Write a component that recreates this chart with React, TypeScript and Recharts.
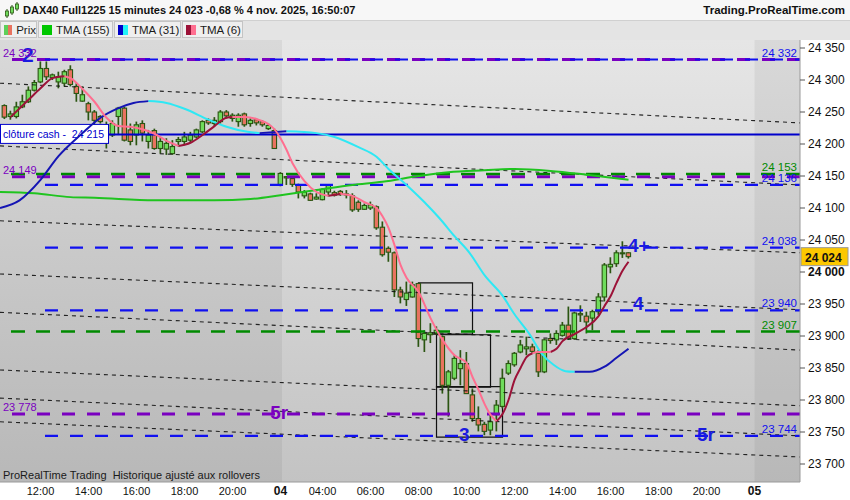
import React from 'react';
import {
  ComposedChart, Bar, Line, XAxis, YAxis, CartesianGrid,
  ReferenceLine, ReferenceArea, ReferenceDot,
} from 'recharts';

// 15 min bars, index 0 = 3 nov 10:30 ... index 104 = 4 nov 16:45
const opens = [
  24260, 24243, 24243, 24258, 24266, 24284, 24297, 24318, 24304, 24297, 24295, 24316, 24290, 24267, 24263, 24250, 24243, 24230, 24214, 24243,
  24256, 24222, 24214, 24232, 24204, 24221, 24193, 24192, 24185, 24204, 24204, 24206, 24211, 24219, 24237, 24232, 24235, 24250, 24240, 24235,
  24247, 24232, 24238, 24235, 24224, 24221, 24136, 24147, 24146, 24136, 24119, 24122, 24114, 24113, 24125, 24124, 24126, 24121, 24119, 24109,
  24098, 24100, 24102, 24070, 24037, 24030, 23972, 23957, 23961, 23982, 23894, 23902, 23904, 23899, 23823, 23834, 23849, 23857, 23808, 23771,
  23762, 23753, 23777, 23790, 23842, 23855, 23875, 23880, 23883, 23873, 23844, 23896, 23894, 23901, 23917, 23896, 23935, 23931, 23928, 23938,
  23961, 24008, 24013, 24029, 24030,
];
const highs = [
  24262, 24252, 24266, 24277, 24290, 24300, 24329, 24329, 24310, 24313, 24316, 24323, 24295, 24290, 24266, 24253, 24245, 24235, 24237, 24258,
  24258, 24232, 24235, 24237, 24222, 24224, 24211, 24209, 24206, 24211, 24219, 24219, 24224, 24237, 24240, 24242, 24253, 24253, 24248, 24248,
  24249, 24240, 24240, 24237, 24232, 24224, 24156, 24150, 24149, 24138, 24128, 24124, 24123, 24131, 24137, 24127, 24128, 24128, 24123, 24112,
  24107, 24110, 24104, 24079, 24040, 24032, 23977, 23985, 23985, 23983, 23909, 23920, 23915, 23901, 23847, 23870, 23878, 23875, 23818, 23790,
  23766, 23777, 23800, 23849, 23862, 23875, 23894, 23899, 23888, 23878, 23896, 23904, 23909, 23922, 23946, 23938, 23948, 23938, 23941, 23967,
  24014, 24023, 24034, 24048, 24031,
];
const lows = [
  24239, 24238, 24240, 24256, 24264, 24282, 24295, 24300, 24300, 24287, 24290, 24290, 24266, 24266, 24237, 24230, 24232, 24193, 24211, 24214,
  24204, 24198, 24198, 24204, 24193, 24191, 24185, 24183, 24183, 24196, 24198, 24203, 24209, 24217, 24230, 24228, 24232, 24240, 24235, 24227,
  24227, 24227, 24229, 24227, 24222, 24193, 24134, 24136, 24133, 24115, 24115, 24111, 24113, 24112, 24118, 24118, 24119, 24115, 24094, 24094,
  24097, 24097, 24066, 24024, 24016, 23961, 23951, 23947, 23960, 23883, 23875, 23889, 23902, 23810, 23774, 23831, 23823, 23810, 23766, 23751,
  23745, 23745, 23751, 23787, 23839, 23852, 23873, 23870, 23873, 23836, 23842, 23888, 23886, 23899, 23894, 23894, 23922, 23904, 23909, 23933,
  23954, 23998, 24008, 24022, 24021,
];
const closes = [
  24242, 24247, 24258, 24266, 24284, 24296, 24318, 24305, 24308, 24305, 24313, 24293, 24279, 24277, 24250, 24237, 24235, 24209, 24232, 24256,
  24206, 24204, 24230, 24217, 24214, 24193, 24204, 24201, 24196, 24207, 24211, 24214, 24222, 24235, 24233, 24237, 24250, 24244, 24245, 24245,
  24230, 24237, 24233, 24230, 24229, 24193, 24154, 24149, 24137, 24125, 24125, 24112, 24117, 24129, 24136, 24120, 24121, 24122, 24097, 24098,
  24104, 24105, 24069, 24027, 24031, 23972, 23961, 23967, 23980, 23896, 23904, 23905, 23909, 23823, 23844, 23865, 23857, 23810, 23771, 23761,
  23751, 23766, 23792, 23834, 23857, 23873, 23886, 23883, 23876, 23844, 23894, 23893, 23904, 23917, 23896, 23936, 23933, 23922, 23938, 23961,
  24011, 24012, 24030, 24030, 24024,
];

// TMA (6), rising / falling parts
const tma6Idx = [1, 4, 6, 8, 10, 11, 13, 15, 17, 19, 21, 23, 25, 27, 29, 31, 33, 35, 37, 38, 40, 42, 44, 45, 46, 47, 48, 50, 52, 54, 56, 58, 60, 62, 63, 64, 65, 66, 67, 69, 71, 73, 75, 77, 78, 79, 80, 81, 82, 83, 84, 85, 86, 87, 88, 89, 90, 91, 92, 93, 95, 97, 99, 100, 101, 102, 103, 104];
const tma6Val = [24242, 24269, 24287, 24303, 24306, 24303, 24286, 24266, 24241, 24228, 24227, 24223, 24216, 24205, 24197, 24202, 24214, 24228, 24241, 24242, 24242, 24239, 24231, 24223, 24209, 24191, 24170, 24142, 24125, 24119, 24122, 24119, 24109, 24100, 24087, 24069, 24042, 24011, 23991, 23969, 23928, 23894, 23870, 23858, 23836, 23816, 23794, 23777, 23767, 23778, 23800, 23831, 23850, 23867, 23873, 23875, 23875, 23875, 23880, 23892, 23903, 23914, 23931, 23947, 23962, 23983, 24002, 24016];
const tma6Up = [[1, 10], [29, 38], [54, 56], [82, 88], [91, 104]];
const tma6Down = [[10, 29], [38, 54], [56, 82], [88, 91]];

// TMA (31)
const tma31Idx = [-0.75, 2.5, 6, 9, 13, 16, 19, 21.5, 24, 27, 30, 34, 37, 40.5, 42.5, 47, 52, 55, 59, 62, 64, 67, 70, 72.5, 75, 77.5, 80, 83, 85, 87.5, 89.5, 91.5, 93.5, 95, 97.5, 100, 102, 104];
const tma31Val = [24100, 24112, 24144, 24181, 24217, 24241, 24256, 24264, 24267, 24264, 24255, 24238, 24227, 24219, 24217, 24220, 24217, 24211, 24195, 24180, 24161, 24136, 24109, 24084, 24056, 24030, 23995, 23963, 23934, 23903, 23873, 23855, 23845, 23844, 23844, 23852, 23866, 23880];
const tma31Up = [[-0.75, 24], [42.5, 47], [95, 104]];
const tma31Down = [[24, 42.5], [47, 95]];

// TMA (155)
const tma155Idx = [-0.75, 5, 11, 15, 25, 35, 41, 46, 52, 58, 63, 69, 74, 80, 85, 91, 97, 104];
const tma155Val = [24125, 24123, 24117, 24116, 24112, 24112, 24114, 24120, 24128, 24136, 24141, 24150, 24156, 24159, 24161, 24158, 24152, 24144];

// horizontal levels
const cashClose = 24215;
const purpleLevels = [24332, 24149, 23778];
const purpleLabels = ['24 332', '24 149', '23 778'];
const greenLevels = [24153, 23907];
const blueLevels = [24332, 24136, 24038, 23940, 23744];

// sloping dotted channel lines (value at left edge / right edge)
const trendLeft = [24295, 24197, 24080, 23997, 23937, 23847, 23803, 23766];
const trendRight = [24233, 24136, 24030, 23941, 23878, 23791, 23744, 23711];

// boxes
const boxX1 = [69, 72, 72];
const boxX2 = [78, 81, 83];
const boxLow = [23903, 23820, 23742];
const boxHigh = [23983, 23902, 23821];

const xTickIdx = [6, 14, 22, 30, 38, 46, 53, 61, 69, 77, 85, 93, 101, 109, 117, 125];
const xTickLabels = ['12:00', '14:00', '16:00', '18:00', '20:00', '04', '04:00', '06:00', '08:00', '10:00', '12:00', '14:00', '16:00', '18:00', '20:00', '05'];
const yTicks = [23700, 23750, 23800, 23850, 23900, 23950, 24000, 24050, 24100, 24150, 24200, 24250, 24300, 24350];
const lastPrice = 24024;

const X_MIN = -0.75;
const X_MAX = 132.58;
const Y_MIN = 23671.9;
const Y_MAX = 24362.5;

const FONT = '"Liberation Sans", Arial, sans-serif';
const WICK = '#2b5512';
const BLUE = '#1010f0';
const PURPLE = '#7a00c0';
const GREEN = '#008a00';

const candles = opens.map((o, i) => ({ i, open: o, high: highs[i], low: lows[i], close: closes[i] }));

function seg(idx: number[], val: number[], a: number, b: number) {
  return idx.map((x, k) => ({ i: x, v: val[k] })).filter(p => p.i >= a && p.i <= b);
}

function fmt(v: number) {
  const s = String(Math.round(v));
  return s.slice(0, -3) + ' ' + s.slice(-3);
}

const Candle = (props: any) => {
  const { x, y, width, height, payload } = props;
  if (payload == null) return null;
  const { open, close, high, low } = payload;
  const cx = x + width / 2;
  const k = high === low ? 0 : height / (high - low);
  const yOf = (v: number) => y + (high - v) * k;
  const up = close >= open;
  const top = yOf(Math.max(open, close));
  const bot = yOf(Math.min(open, close));
  return (
    <g>
      <line x1={cx} x2={cx} y1={y} y2={y + height} stroke={WICK} strokeWidth={1.7} />
      <rect x={cx - 2.2} y={top} width={4.4} height={Math.max(bot - top, 1)}
        fill={up ? '#6fdc5c' : '#e8735f'} stroke={WICK} strokeWidth={1.1} />
    </g>
  );
};

const mark = (text: string, color: string, size = 19) => (p: any) => {
  const vb = p.viewBox || {};
  return (
    <text x={vb.x} y={vb.y} fill={color} fontSize={size} fontWeight="bold" fontFamily={FONT}>{text}</text>
  );
};

const cashLabel = (p: any) => {
  const vb = p.viewBox || {};
  return (
    <g>
      <rect x={vb.x + 0.5} y={vb.y - 10} width={108} height={19} fill="#fff" stroke="#0000cc" strokeWidth={1} />
      <text x={vb.x + 3} y={vb.y + 4} fill="#0000cc" fontSize={11} fontFamily={FONT}
        textLength={101} lengthAdjust="spacingAndGlyphs" style={{ whiteSpace: 'pre' }}>clôture cash -  24 215</text>
    </g>
  );
};

const priceBadge = (p: any) => {
  const vb = p.viewBox || {};
  return (
    <g>
      <rect x={vb.x + 1} y={vb.y - 9} width={47} height={18} fill="#fcc800" stroke="#9a9a9a" strokeWidth={1} />
      <text x={vb.x + 5} y={vb.y + 5} fill="#111" fontSize={12} fontWeight="bold" fontFamily={FONT}>{fmt(lastPrice)}</text>
    </g>
  );
};

const YTick = (p: any) => {
  const v = p.payload.value;
  return (
    <text x={p.x} y={p.y} dy={4} textAnchor="start" fill="#111" fontSize={12}
      fontWeight={v === 24000 ? 'bold' : 'normal'} fontFamily={FONT}>{fmt(v)}</text>
  );
};

const XTick = (p: any) => {
  const k = xTickIdx.indexOf(p.payload.value);
  const lbl = xTickLabels[k] ?? '';
  const day = lbl.length === 2;
  return (
    <text x={p.x} y={p.y} dy={5} textAnchor="middle" fill="#111" fontSize={day ? 12 : 11}
      fontWeight={day ? 'bold' : 'normal'} fontFamily={FONT}>{lbl}</text>
  );
};

const legendItem = (label: string, c1: string, c2: string, w: number) => (
  <div style={{ display: 'flex', alignItems: 'center', width: w, height: 17, boxSizing: 'border-box', border: '1px solid #c4c4c4', background: '#efefef', paddingLeft: 3, marginRight: 1 }}>
    <span style={{ width: 5, height: 10, background: c1, display: 'inline-block' }} />
    <span style={{ width: 5, height: 10, background: c2, display: 'inline-block', marginRight: 4 }} />
    <span style={{ fontSize: 11.5, color: '#1a1a1a' }}>{label}</span>
  </div>
);

export default function App() {
  const lineProps = { dataKey: 'v', type: 'monotone' as const, dot: false, activeDot: false, isAnimationActive: false, strokeWidth: 2 };
  return (
    <div style={{ position: 'absolute', left: 0, top: 0, width: 850, height: 500, background: '#fff', fontFamily: FONT, overflow: 'hidden' }}>
      <ComposedChart width={850} height={500} data={candles} margin={{ top: 40, right: 0, bottom: 0, left: 0 }}
        style={{ position: 'absolute', left: 0, top: 0 }}>
        <defs>
          <linearGradient id="bg" x1="0" y1="0" x2="0" y2="1">
            <stop offset="0%" stopColor="#e6e6e6" />
            <stop offset="100%" stopColor="#c3c3c3" />
          </linearGradient>
        </defs>
        <CartesianGrid horizontal={false} vertical={false} fill="url(#bg)" />
        <XAxis dataKey="i" type="number" domain={[X_MIN, X_MAX]} allowDataOverflow ticks={xTickIdx}
          interval={0} height={18} tick={<XTick />} tickLine={false} tickMargin={2} axisLine={{ stroke: '#9a9a9a' }} />
        <YAxis orientation="right" width={50} domain={[Y_MIN, Y_MAX]} allowDataOverflow ticks={yTicks}
          interval={0} tick={<YTick />} tickSize={5} tickMargin={3} tickLine={{ stroke: '#555' }} axisLine={{ stroke: '#9a9a9a' }} />

        <ReferenceArea x1={X_MIN} x2={46.25} y1={Y_MIN} y2={Y_MAX} fill="#000" fillOpacity={0.055} stroke="none" />
        <ReferenceArea x1={125} x2={X_MAX} y1={Y_MIN} y2={Y_MAX} fill="#000" fillOpacity={0.055} stroke="none" />

        {trendLeft.map((v, k) => (
          <ReferenceLine key={'t' + k} segment={[{ x: X_MIN, y: v }, { x: X_MAX, y: trendRight[k] }]}
            stroke="#111" strokeOpacity={0.9} strokeDasharray="4 4" strokeWidth={1.1} />
        ))}

        {boxX1.map((x1, k) => (
          <ReferenceArea key={'b' + k} x1={x1} x2={boxX2[k]} y1={boxLow[k]} y2={boxHigh[k]}
            fill="none" fillOpacity={0} stroke="#111" strokeWidth={1.2} />
        ))}

        <Bar dataKey={(d: any) => [d.low, d.high]} barSize={5} isAnimationActive={false}
          shape={(p: any) => <Candle {...p} />} />

        <ReferenceLine y={cashClose} stroke="#0000cc" strokeWidth={2} label={cashLabel} />

        {purpleLevels.map((v, k) => (
          <ReferenceLine key={'p' + k} y={v} stroke={PURPLE} strokeWidth={3} strokeDasharray="13 12"
            label={{ value: purpleLabels[k], position: 'insideBottomLeft', offset: 3, fill: PURPLE, fontSize: 11, fontFamily: FONT }} />
        ))}
        {greenLevels.map((v, k) => (
          <ReferenceLine key={'g' + k} y={v} stroke={GREEN} strokeWidth={2.5} strokeDasharray="14 11"
            label={{ value: fmt(v), position: 'insideBottomRight', offset: 3, fill: GREEN, fontSize: 11.5, fontFamily: FONT }} />
        ))}
        {blueLevels.map((v, k) => (
          <ReferenceLine key={'bl' + k} segment={[{ x: 6.75, y: v }, { x: X_MAX, y: v }]} stroke={BLUE} strokeWidth={2.2}
            strokeDasharray="13 12"
            label={{ value: fmt(v), position: 'insideBottomRight', offset: 3, fill: BLUE, fontSize: 11.5, fontFamily: FONT }} />
        ))}

        <Line {...lineProps} data={seg(tma155Idx, tma155Val, X_MIN, X_MAX)} stroke="#1fc41f" />
        {tma31Up.map(([a, b], k) => (
          <Line key={'u31' + k} {...lineProps} data={seg(tma31Idx, tma31Val, a, b)} stroke="#1515b4" />
        ))}
        {tma31Down.map(([a, b], k) => (
          <Line key={'d31' + k} {...lineProps} data={seg(tma31Idx, tma31Val, a, b)} stroke="#2ee8f4" />
        ))}
        {tma6Up.map(([a, b], k) => (
          <Line key={'u6' + k} {...lineProps} data={seg(tma6Idx, tma6Val, a, b)} stroke="#9c1238" />
        ))}
        {tma6Down.map(([a, b], k) => (
          <Line key={'d6' + k} {...lineProps} data={seg(tma6Idx, tma6Val, a, b)} stroke="#ff6f90" />
        ))}

        <ReferenceDot x={2.9} y={24328} r={0} label={mark('2', '#1a1ae0', 21)} />
        <ReferenceDot x={103.9} y={24031} r={0} label={mark('4+', '#1a1ae0', 19)} />
        <ReferenceDot x={104.75} y={23940} r={0} label={mark('4', '#1a1ae0', 19)} />
        <ReferenceDot x={75.75} y={23736} r={0} label={mark('3', '#1a1ae0', 19)} />
        <ReferenceDot x={44.3} y={23770} r={0} label={mark('5r', PURPLE, 19)} />
        <ReferenceDot x={115.4} y={23736} r={0} label={mark('5r', '#1a1ae0', 19)} />
        <ReferenceDot x={X_MAX} y={lastPrice} r={0} ifOverflow="visible" label={priceBadge} />
      </ComposedChart>

      <div style={{ position: 'absolute', left: 0, top: 0, width: 850, height: 21, background: '#f7f7f7', borderBottom: '1px solid #d0d0d0', boxSizing: 'border-box' }}>
        <svg width={16} height={18} style={{ position: 'absolute', left: 4, top: 1 }}>
          <line x1={3} x2={3} y1={8} y2={17} stroke={WICK} />
          <rect x={1.5} y={10} width={3} height={5} fill="#6fdc5c" stroke={WICK} strokeWidth={0.8} />
          <line x1={8} x2={8} y1={4} y2={14} stroke={WICK} />
          <rect x={6.5} y={6} width={3} height={6} fill="#6fdc5c" stroke={WICK} strokeWidth={0.8} />
          <line x1={13} x2={13} y1={1} y2={10} stroke={WICK} />
          <rect x={11.5} y={3} width={3} height={5} fill="#6fdc5c" stroke={WICK} strokeWidth={0.8} />
        </svg>
        <span style={{ position: 'absolute', left: 23, top: 4, fontSize: 11, fontWeight: 'bold', color: '#111', whiteSpace: 'nowrap' }}>
          DAX40 Full1225 15 minutes 24 023 -0,68 % 4 nov. 2025, 16:50:07
        </span>
        <span style={{ position: 'absolute', right: 5, top: 4, fontSize: 11.5, fontWeight: 'bold', color: '#111' }}>
          Trading.ProRealTime.com
        </span>
      </div>
      <div style={{ position: 'absolute', left: 0, top: 21, width: 850, height: 19, background: '#e4e4e4', display: 'flex', alignItems: 'flex-start' }}>
        {legendItem('Prix', '#5ecf5a', '#e8735f', 37)}
        {legendItem('TMA (155)', '#00c800', '#00c800', 75)}
        {legendItem('TMA (31)', '#0000c8', '#22f2f8', 67)}
        {legendItem('TMA (6)', '#9c1238', '#ff6f90', 61)}
      </div>
      <div style={{ position: 'absolute', left: 3, top: 469, fontSize: 11, color: '#1a1a1a', whiteSpace: 'pre' }}>
        ProRealTime Trading  Historique ajusté aux rollovers
      </div>
    </div>
  );
}
